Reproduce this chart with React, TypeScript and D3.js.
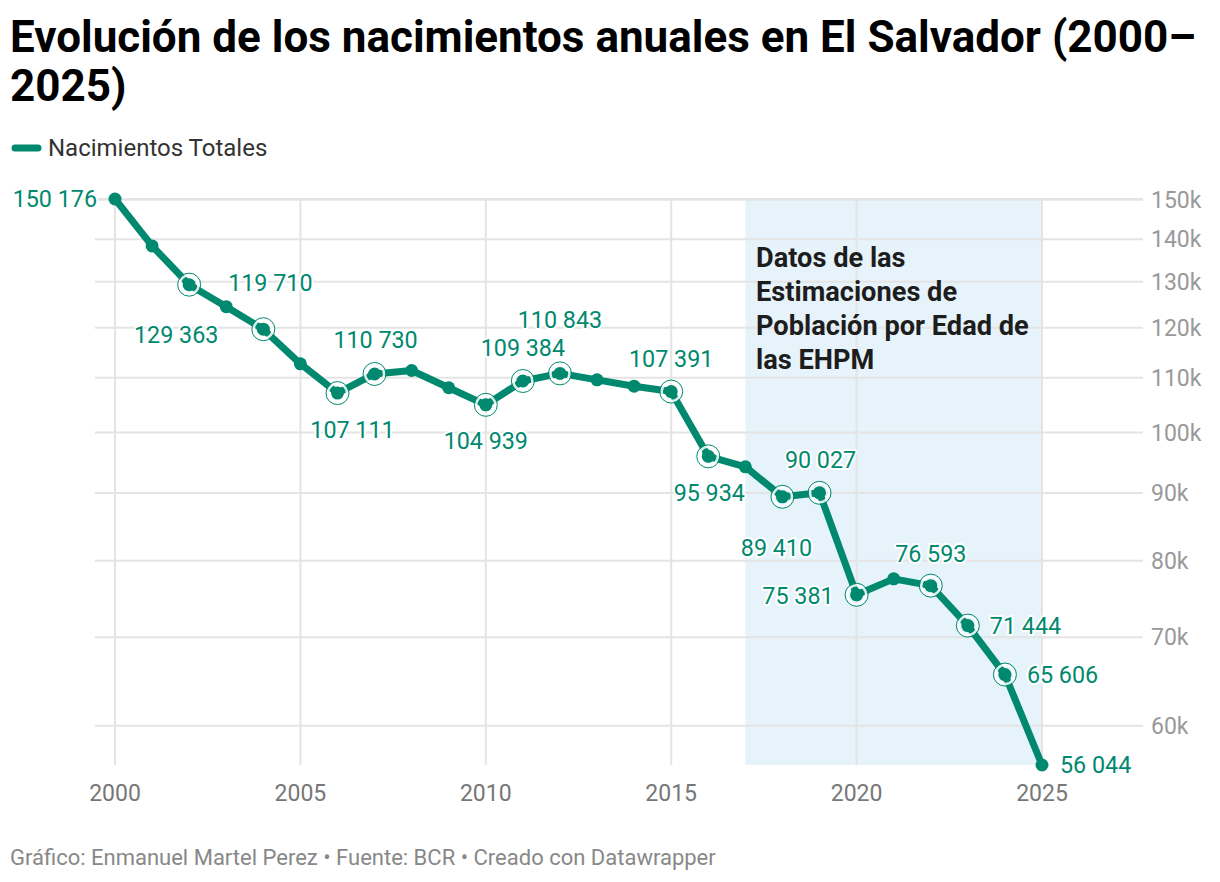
import React from 'react';
import * as d3 from 'd3';

const years = [
  2000, 2001, 2002, 2003, 2004, 2005, 2006, 2007, 2008, 2009, 2010, 2011, 2012,
  2013, 2014, 2015, 2016, 2017, 2018, 2019, 2020, 2021, 2022, 2023, 2024, 2025,
];
const births = [
  150176, 138400, 129363, 124500, 119710, 112700, 107111, 110730, 111400,
  108100, 104939, 109384, 110843, 109600, 108400, 107391, 95934, 94200, 89410,
  90027, 75381, 77500, 76593, 71444, 65606, 56044,
];
const labeledYears = [
  2000, 2002, 2004, 2006, 2007, 2010, 2011, 2012, 2015, 2016, 2018, 2019, 2020,
  2022, 2023, 2024, 2025,
];
const yTicks = [60000, 70000, 80000, 90000, 100000, 110000, 120000, 130000, 140000, 150000];
const xTicks = [2000, 2005, 2010, 2015, 2020, 2025];
const shadeRange = [2017, 2025];
const annotationLines = ['Datos de las', 'Estimaciones de', 'Población por Edad de', 'las EHPM'];

const title1 = 'Evolución de los nacimientos anuales en El Salvador (2000–';
const title2 = '2025)';
const seriesName = 'Nacimientos Totales';
const footer = 'Gráfico: Enmanuel Martel Perez • Fuente: BCR • Creado con Datawrapper';

// label offsets (px) relative to the point, and text anchor
const labelPlacement: Record<number, [number, number, string]> = {
  2000: [-18, 0, 'end'],
  2002: [-13, 50, 'middle'],
  2004: [7, -46, 'middle'],
  2006: [15, 37, 'middle'],
  2007: [1, -34, 'middle'],
  2010: [0, 36, 'middle'],
  2011: [0, -33, 'middle'],
  2012: [0, -54, 'middle'],
  2015: [0, -33, 'middle'],
  2016: [1, 37, 'middle'],
  2018: [-6, 51, 'middle'],
  2019: [1, -33, 'middle'],
  2020: [-23, 1, 'end'],
  2022: [0, -32, 'middle'],
  2023: [22, 0, 'start'],
  2024: [22, 0, 'start'],
  2025: [18, 0, 'start'],
};

const GREEN = '#00896e';
const GRID = '#e4e4e4';
const FONT = 'Roboto, sans-serif';

const fmt = (v: number) => d3.format(',')(v).replace(/,/g, ' ');

export default function App() {
  const width = 1220;
  const height = 882;

  const x = d3.scaleLinear().domain([2000, 2025]).range([115, 1042]);
  const y = d3.scaleLog().domain([56044, 150176]).range([765, 199]);

  const data = years.map((yr, i) => ({ year: yr, value: births[i] }));

  const line = d3
    .line<{ year: number; value: number }>()
    .x((d) => x(d.year))
    .y((d) => y(d.value));

  const gridLeft = 95;
  const gridRight = 1143;

  return (
    <svg
      width={width}
      height={height}
      style={{ position: 'absolute', left: 0, top: 0, background: '#fff' }}
      fontFamily={FONT}
    >
      {/* title */}
      <text x={10} fontSize={44} fontWeight={700} fill="#000">
        <tspan x={10} y={52}>{title1}</tspan>
        <tspan x={10} y={101}>{title2}</tspan>
      </text>

      {/* legend */}
      <line x1={15} x2={38} y1={148} y2={148} stroke={GREEN} strokeWidth={7} strokeLinecap="round" />
      <text x={48} y={148} dy="0.35em" fontSize={24} fill="#333">
        {seriesName}
      </text>

      {/* shaded range */}
      <rect
        x={x(shadeRange[0])}
        y={y(150176)}
        width={x(shadeRange[1]) - x(shadeRange[0])}
        height={y(56044) - y(150176)}
        fill="#e7f3fa"
      />

      {/* grid */}
      {yTicks.map((t) => (
        <line key={'h' + t} x1={gridLeft} x2={gridRight} y1={y(t)} y2={y(t)} stroke={GRID} strokeWidth={2} />
      ))}
      <line x1={gridLeft} x2={gridRight} y1={y(150176)} y2={y(150176)} stroke={GRID} strokeWidth={2} />
      {xTicks.map((t) => (
        <line key={'v' + t} x1={x(t)} x2={x(t)} y1={y(150176)} y2={y(56044)} stroke={GRID} strokeWidth={2} />
      ))}

      {/* y tick labels */}
      {yTicks.map((t) => (
        <text key={'yl' + t} x={1151} y={y(t)} dy="0.35em" fontSize={23} fill="#999">
          {t / 1000 + 'k'}
        </text>
      ))}

      {/* x tick labels */}
      {xTicks.map((t) => (
        <text key={'xl' + t} x={x(t)} y={793} dy="0.35em" fontSize={23} fill="#777" textAnchor="middle">
          {t}
        </text>
      ))}

      {/* annotation */}
      <text fontSize={27.2} fontWeight={700} fill="#1d1d1d">
        {annotationLines.map((l, i) => (
          <tspan key={i} x={756} y={257 + i * 34.3} dy="0.35em">
            {l}
          </tspan>
        ))}
      </text>

      {/* line */}
      <path d={line(data) || ''} fill="none" stroke={GREEN} strokeWidth={7} strokeLinejoin="round" />

      {/* rings on labeled points */}
      {data
        .filter((d) => labeledYears.includes(d.year) && d.year !== 2000 && d.year !== 2025)
        .map((d) => (
          <g key={'r' + d.year}>
            <circle cx={x(d.year)} cy={y(d.value)} r={9.5} fill="none" stroke="#fff" strokeOpacity={0.85} strokeWidth={2.5} />
            <circle cx={x(d.year)} cy={y(d.value)} r={11.5} fill="none" stroke={GREEN} strokeWidth={1} />
          </g>
        ))}

      {/* dots */}
      {data.map((d) => (
        <circle key={'d' + d.year} cx={x(d.year)} cy={y(d.value)} r={6.5} fill={GREEN} />
      ))}

      {/* value labels */}
      {data
        .filter((d) => labeledYears.includes(d.year))
        .map((d) => {
          const [dx, dy, anchor] = labelPlacement[d.year];
          return (
            <text
              key={'l' + d.year}
              x={x(d.year) + dx}
              y={y(d.value) + dy}
              dy="0.35em"
              textAnchor={anchor as any}
              fontSize={23.3}
              fill={GREEN}
              stroke="#fff"
              strokeWidth={4}
              strokeLinejoin="round"
              paintOrder="stroke"
            >
              {fmt(d.value)}
            </text>
          );
        })}

      {/* footer */}
      <text x={10} y={857} dy="0.35em" fontSize={22} fill="#888">
        {footer}
      </text>
    </svg>
  );
}
